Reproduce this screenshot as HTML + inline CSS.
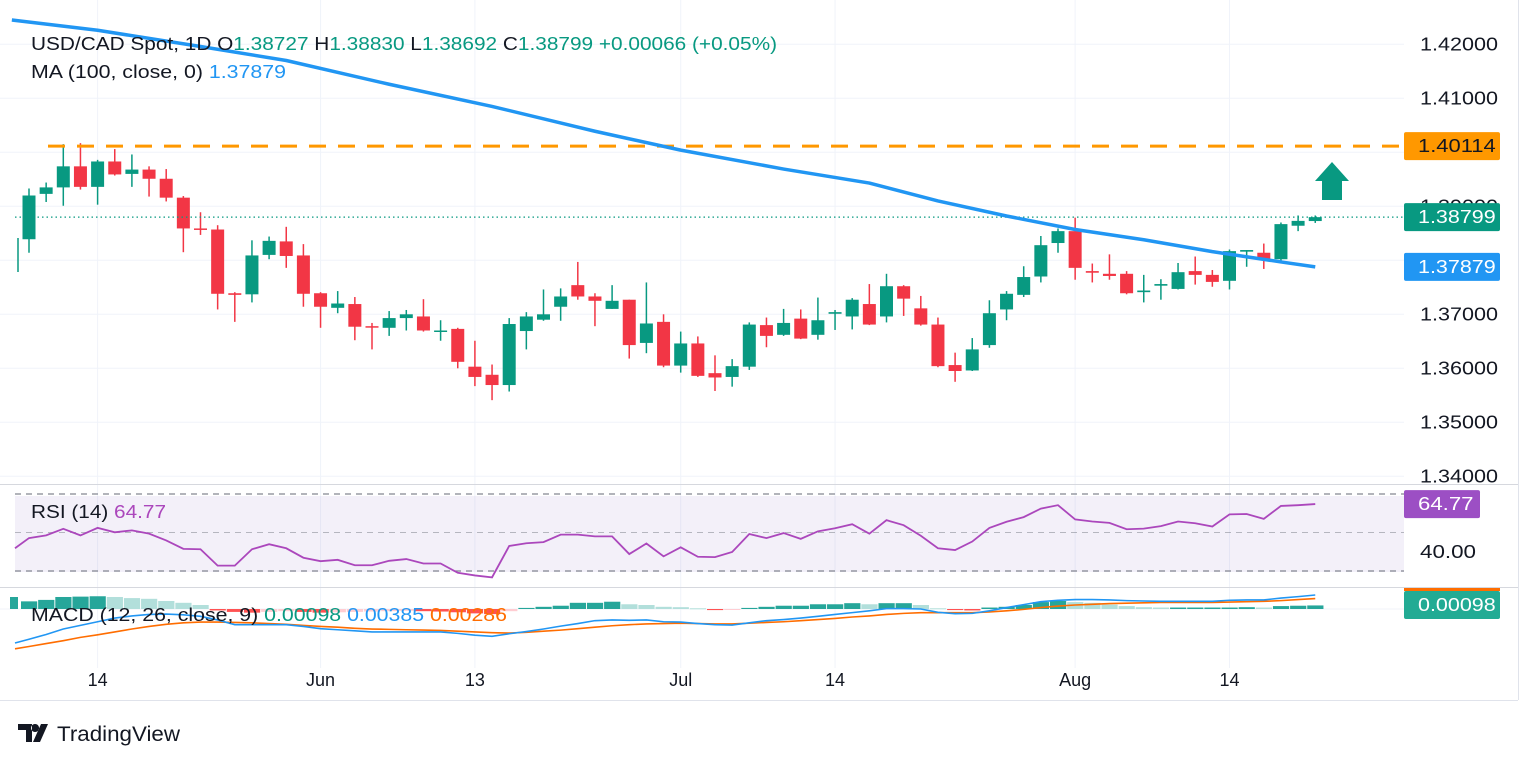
<!DOCTYPE html>
<html><head><meta charset="utf-8"><style>
html,body{margin:0;padding:0;background:#fff;}
svg{display:block;font-family:"Liberation Sans",sans-serif;}
</style></head><body>
<svg id="chart" width="1536" height="763" viewBox="0 0 1536 763" xmlns="http://www.w3.org/2000/svg">
<rect x="0" y="0" width="1536" height="763" fill="#fff"/>
<g id="grid"></g>
<rect x="15" y="496" width="1389" height="76" fill="#7e57c2" fill-opacity="0.09"/>
<g id="rsiGuides"></g>
<g id="candles"></g>
<g id="overlays"></g>
<g id="rsi"></g>
<g id="macd"></g>
<g id="axes"></g>
<line x1="0" y1="484.5" x2="1518" y2="484.5" stroke="#d6d8de" stroke-width="1"/>
<line x1="0" y1="587.5" x2="1518" y2="587.5" stroke="#d6d8de" stroke-width="1"/>
<line x1="1518.5" y1="0" x2="1518.5" y2="700" stroke="#e0e3eb"/>
<line x1="0" y1="700.5" x2="1518" y2="700.5" stroke="#e0e3eb"/>
<g font-size="18">
<text x="31" y="50" fill="#131722" textLength="746" lengthAdjust="spacingAndGlyphs">USD/CAD Spot, 1D  O<tspan fill="#089981">1.38727</tspan>  H<tspan fill="#089981">1.38830</tspan>  L<tspan fill="#089981">1.38692</tspan>  C<tspan fill="#089981">1.38799  +0.00066 (+0.05%)</tspan></text>
<text x="31" y="78" fill="#131722" textLength="255" lengthAdjust="spacingAndGlyphs">MA (100, close, 0)  <tspan fill="#2196f3">1.37879</tspan></text>
<text x="31" y="518" fill="#131722" textLength="135" lengthAdjust="spacingAndGlyphs">RSI (14)  <tspan fill="#ab47bc">64.77</tspan></text>
<text x="31" y="621" fill="#131722" textLength="476" lengthAdjust="spacingAndGlyphs">MACD (12, 26, close, 9)  <tspan fill="#089981">0.00098</tspan>  <tspan fill="#2196f3">0.00385</tspan>  <tspan fill="#ff6d00">0.00286</tspan></text>
</g>
<g>
<path d="M18 724h14v18h-6v-12h-8z M35 724a4 4 0 1 0 0.1 0z M41 724h7l-8 18h-7z" fill="#131722"/>
<text x="57" y="741" font-size="21" fill="#131722" textLength="123" lengthAdjust="spacingAndGlyphs">TradingView</text>
</g>
</svg>
<script>
// ---- data ----
const dates = ["May13","May14","May15","May16","May17","May20","May21","May22","May23","May24","May27","May28","May29","May30","May31","Jun3","Jun4","Jun5","Jun6","Jun7","Jun10","Jun11","Jun12","Jun13","Jun14","Jun17","Jun18","Jun19","Jun20","Jun21","Jun24","Jun25","Jun26","Jun27","Jun28","Jul1","Jul2","Jul3","Jul4","Jul5","Jul8","Jul9","Jul10","Jul11","Jul12","Jul15","Jul16","Jul17","Jul18","Jul19","Jul22","Jul23","Jul24","Jul25","Jul26","Jul29","Jul30","Jul31","Aug1","Aug2","Aug5","Aug6","Aug7","Aug8","Aug9","Aug12","Aug13","Aug14","Aug15","Aug16","Aug19","Aug20","Aug21","Aug22","Aug23","Aug26"];
const opens = [1.3839,1.3923,1.3935,1.3974,1.3936,1.3983,1.3960,1.3968,1.3951,1.3916,1.3859,1.3857,1.3739,1.3737,1.3810,1.3835,1.3809,1.3739,1.3712,1.3719,1.3678,1.3675,1.3693,1.3696,1.3669,1.3673,1.3603,1.3588,1.3569,1.3669,1.3690,1.3714,1.3754,1.3733,1.3710,1.3727,1.3647,1.3686,1.3605,1.3646,1.3591,1.3584,1.3603,1.3680,1.3662,1.3692,1.3662,1.3701,1.3696,1.3719,1.3696,1.3752,1.3711,1.3681,1.3606,1.3596,1.3643,1.3709,1.3736,1.3770,1.3832,1.3854,1.3780,1.3775,1.3775,1.3741,1.3753,1.3747,1.3780,1.3773,1.3762,1.3816,1.3814,1.3802,1.3864,1.38727];
const highs = [1.3933,1.3944,1.4015,1.4017,1.3986,1.4006,1.3996,1.3974,1.3969,1.3919,1.3889,1.3865,1.3741,1.3837,1.3844,1.3862,1.3830,1.3741,1.3743,1.3732,1.3684,1.3706,1.3708,1.3728,1.3689,1.3675,1.3651,1.3607,1.3693,1.3704,1.3746,1.3748,1.3797,1.3739,1.3754,1.3727,1.3759,1.3700,1.3668,1.3659,1.3624,1.3617,1.3685,1.3694,1.3710,1.3709,1.3731,1.3708,1.3730,1.3756,1.3775,1.3754,1.3734,1.3694,1.3629,1.3656,1.3726,1.3743,1.3789,1.3845,1.3859,1.3879,1.3794,1.3811,1.3780,1.3773,1.3765,1.3795,1.3807,1.3782,1.3820,1.3819,1.3831,1.3870,1.3883,1.38830];
const lows = [1.3814,1.3908,1.3901,1.3931,1.3903,1.3957,1.3936,1.3918,1.3909,1.3815,1.3847,1.3709,1.3686,1.3722,1.3802,1.3786,1.3714,1.3675,1.3702,1.3652,1.3635,1.3660,1.3670,1.3668,1.3651,1.3600,1.3567,1.3541,1.3557,1.3635,1.3688,1.3688,1.3727,1.3678,1.3710,1.3618,1.3628,1.3602,1.3592,1.3584,1.3558,1.3566,1.3597,1.3639,1.3660,1.3654,1.3653,1.3671,1.3672,1.3680,1.3685,1.3697,1.3679,1.3602,1.3575,1.3595,1.3638,1.3689,1.3732,1.3759,1.3814,1.3764,1.3759,1.3764,1.3737,1.3722,1.3727,1.3746,1.3755,1.3751,1.3746,1.3788,1.3784,1.3797,1.3854,1.38692];
const closes = [1.3920,1.3935,1.3974,1.3936,1.3983,1.3959,1.3968,1.3951,1.3916,1.3859,1.3857,1.3738,1.3736,1.3809,1.3836,1.3808,1.3738,1.3714,1.3720,1.3677,1.3676,1.3693,1.3700,1.3670,1.3670,1.3612,1.3584,1.3569,1.3682,1.3696,1.3700,1.3733,1.3733,1.3725,1.3725,1.3643,1.3683,1.3605,1.3646,1.3586,1.3583,1.3604,1.3681,1.3660,1.3684,1.3655,1.3689,1.3704,1.3727,1.3681,1.3752,1.3729,1.3681,1.3604,1.3595,1.3635,1.3702,1.3738,1.3769,1.3828,1.3854,1.3786,1.3777,1.3771,1.3739,1.3744,1.3756,1.3778,1.3773,1.3760,1.3817,1.3819,1.3802,1.3867,1.3873,1.38799];
const maIdx = [-1,4,10,15,21,27,33,38,44,49,53,57,61,65,69,73,75];
const maVals = [1.4245,1.4226,1.4196,1.4170,1.4126,1.4085,1.4039,1.4004,1.3969,1.3943,1.3910,1.3882,1.3857,1.3838,1.3816,1.3797,1.37879];
const rsiVals = [47.1,48.5,51.9,48.5,52.4,50.1,51.1,49.4,45.9,41.5,41.3,32.8,32.8,41.3,43.9,41.8,36.9,35.1,35.8,33,33,35.3,36.2,33.9,33.9,29.1,27.7,26.7,43,44.4,45,48.9,48.9,48,48,38.8,44.3,37.6,42.3,37.4,37.2,39.9,49.2,47.1,49.7,46.7,50.6,52.2,54.3,49.4,56.4,53.8,48.3,41.8,40.9,45.3,52.4,55.6,58,62.4,64.2,56.8,55.7,55,51.7,52,53.3,55.7,54.8,53.1,59.4,59.6,57.1,63.8,64.2,64.77];
const macdVals = [-0.0083,-0.0070,-0.0055,-0.0045,-0.0035,-0.0025,-0.0019,-0.0015,-0.0014,-0.0016,-0.0020,-0.0030,-0.0043,-0.0043,-0.0043,-0.0043,-0.0048,-0.0054,-0.0057,-0.0060,-0.0063,-0.0063,-0.0063,-0.0063,-0.0063,-0.0067,-0.0072,-0.0075,-0.0068,-0.0062,-0.0055,-0.0047,-0.0040,-0.0032,-0.0030,-0.0031,-0.0030,-0.0035,-0.0036,-0.0040,-0.0043,-0.0044,-0.0038,-0.0032,-0.0029,-0.0025,-0.0020,-0.0015,-0.0010,-0.0005,0.0001,0.0001,0.0000,-0.0009,-0.0013,-0.0012,-0.0005,0.0004,0.0012,0.0020,0.0024,0.0026,0.0026,0.0025,0.0023,0.0022,0.0021,0.0021,0.0021,0.0021,0.0024,0.0025,0.0025,0.0030,0.0034,0.00385];
const signalVals = [-0.0103,-0.0095,-0.0087,-0.0078,-0.0071,-0.0063,-0.0055,-0.0048,-0.0042,-0.0038,-0.0036,-0.0036,-0.0037,-0.0038,-0.0040,-0.0042,-0.0045,-0.0048,-0.0050,-0.0053,-0.0055,-0.0056,-0.0057,-0.0058,-0.0059,-0.0061,-0.0063,-0.0065,-0.0066,-0.0064,-0.0061,-0.0058,-0.0054,-0.0050,-0.0046,-0.0043,-0.0041,-0.0040,-0.0039,-0.0040,-0.0041,-0.0041,-0.0039,-0.0037,-0.0035,-0.0032,-0.0029,-0.0026,-0.0022,-0.0019,-0.0015,-0.0012,-0.0010,-0.0010,-0.0010,-0.0010,-0.0008,-0.0005,-0.0001,0.0004,0.0008,0.0011,0.0013,0.0015,0.0016,0.0017,0.0018,0.0018,0.0018,0.0018,0.0019,0.0020,0.0021,0.0023,0.0026,0.00286];
const histVals = [0.0021,0.0025,0.0033,0.0034,0.0035,0.0033,0.0030,0.0028,0.0022,0.0017,0.0011,-0.0004,-0.0008,-0.0010,-0.0008,-0.0006,-0.0008,-0.0010,-0.0009,-0.0008,-0.0007,-0.0006,-0.0005,-0.0006,-0.0007,-0.0009,-0.0012,-0.0014,-0.0006,0.0003,0.0006,0.0009,0.0017,0.0017,0.0020,0.0013,0.0011,0.0006,0.0005,0.0002,-0.0003,-0.0002,0.0003,0.0006,0.0009,0.0009,0.0013,0.0013,0.0016,0.0013,0.0016,0.0016,0.0011,0.0002,-0.0003,-0.0004,0.0004,0.0006,0.0011,0.0019,0.0022,0.0019,0.0017,0.0012,0.0008,0.0005,0.0004,0.0004,0.0004,0.0004,0.0004,0.0005,0.0004,0.0008,0.0009,0.00098];
const priceTicks = [1.42,1.41,1.40,1.39,1.38,1.37,1.36,1.35,1.34];
const timeTickIdx = [4,17,26,38,47,61,70];
const timeTickLabels = ["14","Jun","13","Jul","14","Aug","14"];
const resistance = 1.40114;
const lastClose = 1.38799;
const lastMA = 1.37879;
const lastRSI = 64.77;
const lastHist = 0.00098;

// ---- scales ----
const X0 = 29, DX = 17.15, PLOT_L = 15, PLOT_R = 1404;
const xAt = i => X0 + i * DX;
const yP = p => 152.3 + (1.40 - p) * 5400;
const yR = r => 494 + (70 - r) * 1.925;
const yM = v => 609 - v * 3640;
const NS = "http://www.w3.org/2000/svg";
function mk(tag, attrs, parent) {
  const e = document.createElementNS(NS, tag);
  for (const k in attrs) e.setAttribute(k, attrs[k]);
  parent.appendChild(e);
  return e;
}
const $ = id => document.getElementById(id);

// grid
const grid = $("grid");
priceTicks.forEach(p => {
  const l = mk("line", {x1: 0, x2: PLOT_R, y1: yP(p), y2: yP(p), stroke: "#f0f3fa"}, grid);
  
  
});
timeTickIdx.forEach(i => {
  const l = mk("line", {x1: xAt(i), x2: xAt(i), y1: 0, y2: 668, stroke: "#f0f3fa"}, grid);
  
  
});
mk("line", {x1: 0, x2: PLOT_R, y1: yM(0), y2: yM(0), stroke: "#f0f3fa"}, grid);

// RSI guides
const rg = $("rsiGuides");
[70, 50, 30].forEach(v => {
  const l = mk("line", {x1: PLOT_L, x2: PLOT_R, y1: yR(v), y2: yR(v), stroke: "#787b86", "stroke-dasharray": "6,5", "stroke-width": v === 50 ? 1 : 1.2, "stroke-opacity": v === 50 ? 0.5 : 0.9}, rg);
  
  
});

// candles
const cg = $("candles");
mk("line", {x1: 18, x2: 18, y1: 238, y2: 272, stroke: "#089981", "stroke-width": 1.5}, cg);
for (let i = 0; i < closes.length; i++) {
  const up = closes[i] >= opens[i];
  const col = up ? "#089981" : "#f23645";
  const x = xAt(i);
  const w = mk("line", {x1: x, x2: x, y1: yP(highs[i]), y2: yP(lows[i]), stroke: col, "stroke-width": 1.5}, cg);
  
  
  const top = yP(Math.max(opens[i], closes[i])), bot = yP(Math.min(opens[i], closes[i]));
  const b = mk("rect", {x: x - 6.5, y: top, width: 13, height: Math.max(1.5, bot - top), fill: col}, cg);
  
  
}

// overlays
const og = $("overlays");
const res = mk("line", {x1: 48, x2: PLOT_R, y1: yP(resistance), y2: yP(resistance), stroke: "#ff9800", "stroke-width": 3, "stroke-dasharray": "17,12"}, og);


const lc = mk("line", {x1: PLOT_L, x2: PLOT_R, y1: yP(lastClose), y2: yP(lastClose), stroke: "#089981", "stroke-width": 1.3, "stroke-dasharray": "1.5,3"}, og);


let d = "";
maIdx.forEach((i, k) => { d += (k ? "L" : "M") + xAt(i) + " " + yP(maVals[k]); });
const ma = mk("path", {d: d, fill: "none", stroke: "#2196f3", "stroke-width": 3.5, "stroke-linejoin": "round"}, og);


const arrow = mk("path", {d: "M1332 162 L1349 181 L1342 181 L1342 200 L1322 200 L1322 181 L1315 181 Z", fill: "#089981"}, og);



// RSI
const rs = $("rsi");
let rd = "";
rsiVals.forEach((v, i) => { rd += (i ? "L" : "M") + xAt(i) + " " + yR(v); });
const rl = mk("path", {d: "M" + PLOT_L + " " + yR(41.8) + "L" + rd.slice(1), fill: "none", stroke: "#ab47bc", "stroke-width": 1.8}, rs);



// MACD
const mg = $("macd");
histVals.forEach((v, i) => {
  const prev = i ? histVals[i - 1] : v;
  let col;
  if (v >= 0) col = v >= prev ? "#26a69a" : "#b2dfdb";
  else col = v <= prev ? "#ff5252" : "#ffcdd2";
  const y1 = yM(Math.max(v, 0)), y2 = yM(Math.min(v, 0));
  const r = mk("rect", {x: xAt(i) - 8, y: y1, width: 16.2, height: Math.max(1, y2 - y1), fill: col}, mg);
  
  
});
mk("rect", {x: 10, y: 597, width: 8, height: yM(0) - 597, fill: "#26a69a"}, mg);
function line(vals, col, name) {
  let s = "";
  vals.forEach((v, i) => { s += (i ? "L" : "M") + xAt(i) + " " + yM(v); });
  const p = mk("path", {d: "M" + PLOT_L + " " + yM(vals[0] - (vals[1] - vals[0]) * 0.8) + "L" + s.slice(1), fill: "none", stroke: col, "stroke-width": 1.6}, mg);
  
  
}
line(signalVals, "#ff6d00", "macd-signal-line");
line(macdVals, "#2196f3", "macd-line");

// axes
const ax = $("axes");
mk("rect", {x: PLOT_R, y: 0, width: 114, height: 700, fill: "#fff"}, ax);
priceTicks.forEach(p => {
  const t = mk("text", {x: 1420, y: yP(p) + 6, "font-size": 18, fill: "#131722", textLength: 78, lengthAdjust: "spacingAndGlyphs"}, ax);
  t.textContent = p.toFixed(5);
  
  
});
const t40 = mk("text", {x: 1420, y: yR(40) + 6, "font-size": 18, fill: "#131722", textLength: 56, lengthAdjust: "spacingAndGlyphs"}, ax);
t40.textContent = "40.00";


function badge(y, w, col, txt, name, tc) {
  const g = mk("g", {}, ax);
  
  
  mk("rect", {x: 1404, y: y - 14, width: w, height: 28, rx: 2, fill: col}, g);
  const t = mk("text", {x: 1418, y: y + 6, "font-size": 18, fill: tc || "#fff", textLength: txt.length * 11.1, lengthAdjust: "spacingAndGlyphs"}, g);
  t.textContent = txt;
}
badge(yP(resistance), 96, "#ff9800", resistance.toFixed(5), "resistance-price-badge", "#131722");
badge(yP(lastClose), 96, "#089981", lastClose.toFixed(5), "last-price-badge");
badge(yP(lastMA), 96, "#2196f3", lastMA.toFixed(5), "ma-price-badge");
badge(yR(lastRSI), 76, "#9c4fc4", lastRSI.toFixed(2), "rsi-value-badge");
mk("rect", {x: 1404, y: 588, width: 96, height: 3, fill: "#ff6d00"}, ax);
badge(605, 96, "#22ab94", lastHist.toFixed(5), "macd-value-badge");
timeTickIdx.forEach((i, k) => {
  const t = mk("text", {x: xAt(i), y: 686, "font-size": 18, fill: "#131722", "text-anchor": "middle"}, ax);
  t.textContent = timeTickLabels[k];
  
  
});
</script>
</body></html>
